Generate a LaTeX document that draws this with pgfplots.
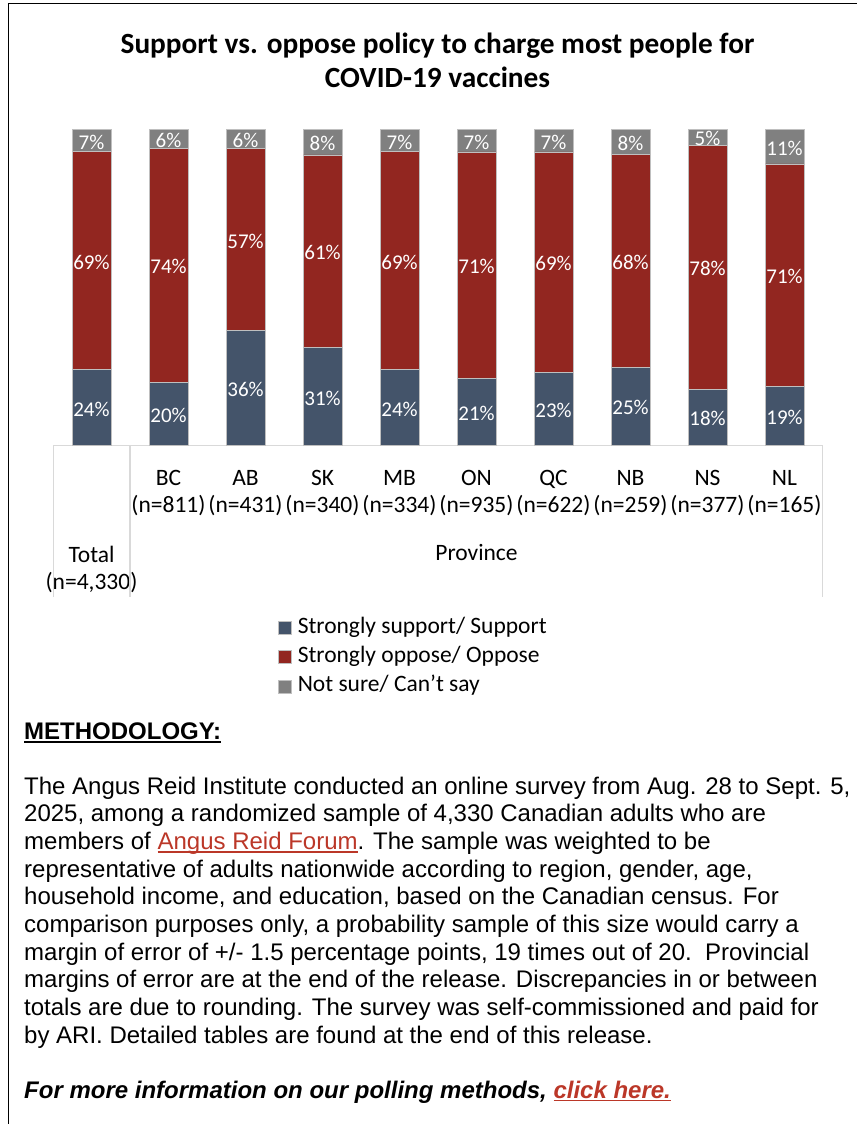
\documentclass[border=0pt]{standalone}
\usepackage{pgfplots}
\pgfplotsset{compat=1.18}
\usepackage{pgfplotstable}
\usepackage{fontspec}
\setmainfont{Carlito}
\newfontfamily\arial{Liberation Sans}
\definecolor{cblue}{RGB}{68,84,106}
\definecolor{cred}{RGB}{146,38,32}
\definecolor{cgray}{RGB}{128,128,128}
\definecolor{axisgray}{RGB}{217,217,217}
\definecolor{link}{RGB}{187,55,40}
\newsavebox{\ulbox}
\newcommand{\ul}[1]{\sbox{\ulbox}{#1}\rlap{\raisebox{-3.2pt}{\rule{\wd\ulbox}{1.6pt}}}\usebox{\ulbox}}

% x, stacked heights (normalised to 100), shown labels
\pgfplotstableread{
x b r g lb lr lg
0 24 69 7 24 69 7
1 20 74 6 20 74 6
2 36.36 57.58 6.06 36 57 6
3 31 61 8 31 61 8
4 24 69 7 24 69 7
5 21.21 71.72 7.07 21 71 7
6 23.23 69.70 7.07 23 69 7
7 24.75 67.33 7.92 25 68 8
8 17.82 77.23 4.95 18 78 5
9 18.81 70.30 10.89 19 71 11
}\data

\newcommand{\tickfont}{\fontsize{23.5}{27.5}\selectfont}
\newcommand{\labfont}{\fontsize{21}{24}\selectfont}

\begin{document}
\begin{tikzpicture}
\path[use as bounding box] (0pt,0pt) rectangle (857pt,-1124pt);
% frame
\draw[line width=1.7pt] (8.5pt,-1124pt) -- (8.5pt,-4pt);
\draw[line width=1pt] (8pt,-4pt) -- (857pt,-4pt);

% title
\node[anchor=base, font=\bfseries\fontsize{29.3}{34}\selectfont] at (437.5pt,-54pt) {Support vs. oppose policy to charge most people for};
\node[anchor=base, font=\bfseries\fontsize{29.3}{34}\selectfont] at (437.5pt,-88pt) {COVID-19 vaccines};

\begin{axis}[
  at={(53pt,-445.5pt)}, anchor=south west,
  scale only axis, width=770pt, height=316pt,
  xmin=-0.5, xmax=9.5, ymin=0, ymax=100,
  ybar stacked, bar width=38.5pt,
  axis y line=none, axis x line*=bottom,
  x axis line style={draw=axisgray, line width=1.3pt, -},
  xtick={1,2,3,4,5,6,7,8,9},
  xticklabels={BC\\(n=811),AB\\(n=431),SK\\(n=340),MB\\(n=334),ON\\(n=935),QC\\(n=622),NB\\(n=259),NS\\(n=377),NL\\(n=165)},
  extra x ticks={0},
  extra x tick labels={Total\\(n=4{,}330)},
  extra x tick style={tick label style={yshift=-76pt}},
  major tick length=0pt,
  xtick style={draw=none},
  xticklabel style={align=center, font=\tickfont, text=black, yshift=-21pt},
  legend style={at={(0.2918,-0.5445)}, anchor=north west, draw=none, fill=none,
    inner sep=0pt, outer sep=0pt, row sep=8.1pt,
    nodes={inner sep=0pt, text height=16pt, text depth=5pt, font=\tickfont}},
  legend cell align=left,
  legend image code/.code={\fill[#1] (0pt,-6.5pt) rectangle (13pt,6.5pt); \path (19.7pt,0pt);},
]
\addplot[fill=cblue, draw=white!75!black, line width=0.4pt] table[x=x, y=b] {\data};
\addplot[fill=cred, draw=white!75!black, line width=0.4pt] table[x=x, y=r] {\data};
\addplot[fill=cgray, draw=white!75!black, line width=0.4pt] table[x=x, y=g] {\data};
\legend{Strongly support/ Support, Strongly oppose/ Oppose, Not sure/ Can’t say}
\end{axis}

% data labels at segment midpoints
\begin{axis}[
  at={(53pt,-445.5pt)}, anchor=south west,
  scale only axis, width=770pt, height=316pt,
  xmin=-0.5, xmax=9.5, ymin=0, ymax=100,
  axis lines=none, xtick=\empty, ytick=\empty, clip=false,
  point meta=explicit symbolic,
  nodes near coords={\pgfplotspointmeta\%},
  every node near coord/.style={anchor=center, text=white, font=\labfont, inner sep=0pt, yshift=-1.5pt},
]
\addplot[draw=none, mark=none]
  table[x=x, y expr=\thisrow{b}/2, meta=lb] {\data};
\addplot[draw=none, mark=none]
  table[x=x, y expr=\thisrow{b}+\thisrow{r}/2, meta=lr] {\data};
\addplot[draw=none, mark=none]
  table[x=x, y expr=\thisrow{b}+\thisrow{r}+\thisrow{g}/2, meta=lg] {\data};
\end{axis}

% category axis dividers
\draw[axisgray, line width=1.3pt] (53.3pt,-445pt) -- (53.3pt,-597pt);
\draw[axisgray, line width=1.3pt] (130pt,-445pt) -- (130pt,-597pt);
\draw[axisgray, line width=1.3pt] (822.7pt,-445pt) -- (822.7pt,-597pt);
\node[anchor=base, font=\tickfont] at (476.5pt,-560.5pt) {Province};

% methodology
\node[anchor=base west, inner sep=0pt, font=\arial\bfseries\fontsize{24}{27.7}\selectfont] (h) at (24pt,-739pt) {METHODOLOGY:};
\draw[line width=1.7pt] ([yshift=-3pt]h.base west) -- ([yshift=-3pt]h.base east);
\begin{scope}[every node/.style={anchor=base west, inner sep=0pt, font=\arial\fontsize{24}{27.7}\selectfont}]
\node at (24pt,-794pt) {The Angus Reid Institute conducted an online survey from Aug. 28 to Sept. 5,};
\node at (24pt,-821.7pt) {2025, among a randomized sample of 4,330 Canadian adults who are};
\node at (24pt,-849.4pt) {members of \textcolor{link}{\ul{Angus Reid Forum}}. The sample was weighted to be};
\node at (24pt,-877.1pt) {representative of adults nationwide according to region, gender, age,};
\node at (24pt,-904.8pt) {household income, and education, based on the Canadian census. For};
\node at (24pt,-932.5pt) {comparison purposes only, a probability sample of this size would carry a};
\node at (24pt,-960.2pt) {margin of error of +/- 1.5 percentage points, 19 times out of 20.\ \ Provincial};
\node at (24pt,-987.9pt) {margins of error are at the end of the release. Discrepancies in or between};
\node at (24pt,-1015.6pt) {totals are due to rounding. The survey was self-commissioned and paid for};
\node at (24pt,-1043.3pt) {by ARI. Detailed tables are found at the end of this release.};
\node[font=\arial\bfseries\itshape\fontsize{24}{27.7}\selectfont] at (24pt,-1098pt) {For more information on our polling methods, \textcolor{link}{\ul{click here.}}};
\end{scope}
\end{tikzpicture}
\end{document}
